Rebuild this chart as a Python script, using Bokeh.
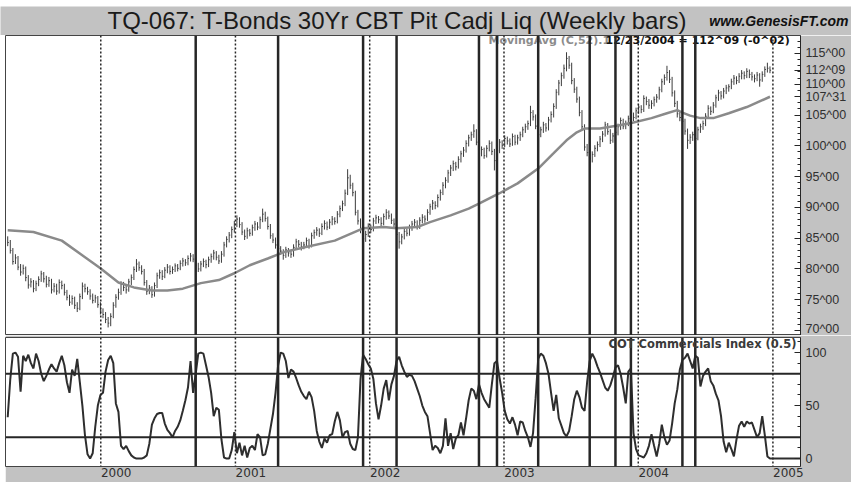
import pandas as pd
from bokeh.plotting import figure
from bokeh.layouts import column, row
from bokeh.models import Range1d, FixedTicker, Span, Label, ColumnDataSource, Spacer
from bokeh.core.properties import value
from bokeh.embed import file_html
from bokeh.resources import INLINE

# ---------------- data ----------------
first_week = "1999-04-23"

close = [
    84.3, 83.0, 81.2, 81.8, 80.3, 79.5, 80.1, 78.6, 77.4, 77.9,
    76.8, 77.6, 78.3, 79.2, 78.4, 77.5, 78.1, 76.6, 77.2, 76.4,
    77.8, 77.3, 76.2, 75.4, 74.6, 75.2, 74.1, 73.6, 75.5, 77.2,
    76.8, 76.3, 75.6, 74.9, 75.3, 74.2, 73.2, 72.6, 71.8, 71.2,
    72.3, 74.1, 75.4, 76.2, 77.5, 77.0, 76.6, 77.9, 78.6, 79.9,
    80.8, 80.2, 79.6, 77.8, 76.4, 76.9, 75.8, 77.3, 78.9, 79.4,
    78.8, 79.8, 80.3, 79.6, 79.9, 80.5, 80.1, 80.9, 81.3, 81.0,
    81.7, 82.1, 81.6, 80.6, 80.0, 80.8, 81.2, 80.7, 81.5, 82.0,
    82.6, 81.9, 81.3, 82.4, 83.9, 84.8, 85.5, 86.4, 87.3, 88.1,
    87.2, 86.0, 85.3, 86.2, 85.8, 86.7, 87.3, 86.8, 88.0, 88.9,
    88.2, 86.9, 85.4, 84.7, 83.9, 83.3, 82.9, 82.2, 83.1, 82.6,
    82.4, 83.5, 84.4, 84.0, 83.6, 83.9, 84.6, 83.8, 85.4, 85.9,
    86.3, 85.8, 86.9, 87.4, 86.8, 87.6, 88.1, 87.7, 88.9, 89.8,
    90.6, 92.3, 94.8, 93.6, 92.4, 89.2, 87.8, 86.4, 84.9, 85.6,
    86.9, 86.4, 87.8, 88.3, 88.0, 87.4, 88.5, 89.2, 88.6, 87.9,
    87.3, 85.6, 84.4, 85.2, 86.1, 85.8, 86.7, 87.3, 87.6, 86.9,
    87.9, 88.4, 88.1, 89.2, 90.1, 90.7, 90.3, 91.6, 92.4, 93.6,
    94.4, 95.6, 96.4, 97.1, 96.6, 97.8, 98.7, 99.3, 100.4, 101.3,
    101.8, 102.4, 100.6, 98.8, 99.4, 98.4, 99.6, 100.4, 99.1, 97.6,
    99.2, 100.6, 100.1, 101.2, 100.8, 100.3, 101.5, 100.6, 101.3, 101.8,
    102.6, 103.1, 103.6, 105.4, 104.7, 103.2, 101.8, 102.6, 103.4, 102.9,
    104.2, 105.1, 106.4, 108.7, 110.2, 111.4, 112.6, 114.2, 113.1, 110.6,
    109.2, 107.6, 105.4, 103.1, 99.8, 98.9, 97.9, 98.6, 99.6, 100.2,
    101.1, 101.9, 103.4, 102.3, 100.9, 101.6, 102.2, 103.1, 104.1, 103.2,
    103.6, 104.4, 105.1, 104.6, 105.7, 106.3, 105.9, 107.7, 107.2, 106.6,
    106.9, 107.5, 107.9, 109.1, 110.4, 111.1, 111.9, 110.8, 108.6, 106.9,
    105.2, 104.6, 104.0, 102.4, 100.9, 101.4, 101.8, 101.2, 102.6, 103.1,
    103.6, 104.8, 106.1, 105.6, 106.6, 107.8, 108.6, 108.1, 108.9, 109.4,
    109.6, 110.4, 111.0, 110.6, 111.3, 111.8, 111.4, 112.1, 111.6, 111.2,
    110.9, 111.5, 110.7, 111.6, 112.4, 112.6, 112.28,
]

high = [
    85.3, 84.7, 83.4, 82.4, 82.1, 80.8, 80.7, 80.4, 79.0, 78.5,
    78.2, 78.1, 78.8, 79.7, 79.5, 78.9, 78.7, 78.4, 77.7, 77.6,
    78.3, 78.1, 77.6, 76.6, 75.8, 75.7, 75.5, 74.6, 76.0, 77.8,
    77.6, 77.1, 76.7, 76.0, 75.8, 75.6, 74.6, 73.6, 73.0, 72.2,
    72.8, 74.6, 75.9, 76.8, 78.0, 77.9, 77.4, 78.4, 79.1, 80.4,
    81.6, 81.2, 80.6, 80.0, 78.2, 77.4, 77.2, 77.8, 79.4, 79.9,
    79.8, 80.3, 80.8, 80.6, 80.4, 80.9, 80.8, 81.4, 81.8, 81.6,
    82.2, 82.6, 82.4, 82.0, 81.0, 81.3, 81.7, 81.5, 82.0, 82.5,
    83.1, 82.9, 82.3, 82.9, 84.4, 85.3, 86.0, 86.9, 87.8, 88.7,
    88.4, 87.6, 86.4, 86.7, 86.5, 87.2, 87.8, 87.6, 88.5, 89.8,
    89.3, 88.5, 87.3, 85.8, 85.1, 84.3, 83.7, 83.2, 83.6, 83.4,
    83.0, 84.0, 84.9, 84.7, 84.4, 84.4, 85.1, 84.9, 85.9, 86.4,
    86.8, 86.6, 87.4, 87.9, 87.7, 88.1, 88.6, 88.4, 89.4, 90.3,
    91.1, 92.9, 96.2, 95.3, 94.0, 92.7, 89.6, 88.2, 86.8, 86.2,
    87.4, 87.2, 88.3, 88.8, 88.6, 88.4, 89.0, 89.7, 89.5, 89.0,
    88.2, 87.7, 86.0, 85.7, 86.6, 86.5, 87.2, 87.8, 88.1, 87.9,
    88.4, 88.9, 88.7, 89.7, 90.6, 91.2, 91.0, 92.1, 92.9, 94.1,
    94.9, 96.1, 96.9, 97.6, 97.4, 98.3, 99.2, 99.8, 100.9, 101.8,
    102.3, 103.5, 102.7, 101.0, 99.9, 99.7, 100.1, 100.9, 100.7, 99.5,
    99.7, 101.1, 100.9, 101.7, 101.5, 101.2, 102.0, 101.8, 101.8, 102.3,
    103.1, 103.6, 104.1, 106.5, 105.8, 105.1, 103.6, 103.1, 103.9, 103.7,
    104.7, 105.6, 106.9, 109.2, 110.7, 111.9, 113.2, 115.2, 114.6, 113.5,
    111.0, 109.6, 108.0, 105.8, 103.5, 100.3, 99.4, 99.1, 100.1, 100.7,
    101.6, 102.4, 103.9, 103.7, 102.7, 102.1, 102.7, 103.6, 104.6, 104.4,
    104.1, 104.9, 105.6, 105.4, 106.2, 106.8, 106.6, 108.2, 108.0, 107.6,
    107.4, 108.0, 108.4, 109.6, 110.9, 111.6, 113.0, 112.3, 111.2, 109.0,
    107.3, 105.6, 105.0, 104.4, 102.8, 101.9, 102.3, 102.1, 103.1, 103.6,
    104.1, 105.3, 106.6, 106.4, 107.1, 108.3, 109.1, 108.9, 109.4, 109.9,
    110.0, 110.9, 111.5, 111.3, 111.8, 112.3, 112.1, 112.6, 112.4, 112.0,
    111.6, 112.0, 111.8, 112.1, 112.9, 113.5, 112.9,
]

low = [
    83.7, 82.5, 80.7, 80.8, 79.8, 78.9, 79.1, 78.0, 76.8, 77.0,
    76.2, 76.4, 77.2, 77.9, 77.8, 77.0, 77.1, 76.0, 76.2, 75.8,
    76.0, 76.7, 75.7, 74.9, 74.0, 74.2, 73.5, 73.0, 73.3, 75.1,
    76.2, 75.8, 75.0, 74.4, 74.5, 73.7, 72.6, 72.0, 71.2, 70.5,
    70.7, 72.0, 73.7, 75.0, 75.8, 76.4, 76.0, 76.3, 77.4, 78.2,
    79.5, 79.7, 79.1, 77.3, 75.8, 75.9, 75.3, 75.5, 76.9, 78.4,
    78.2, 78.5, 79.3, 79.1, 79.2, 79.5, 79.6, 79.8, 80.4, 80.5,
    80.6, 81.2, 81.1, 80.1, 79.5, 79.6, 80.3, 80.1, 80.3, 81.0,
    81.5, 81.4, 80.8, 81.0, 82.0, 83.5, 84.3, 85.0, 85.9, 86.8,
    86.7, 85.5, 84.7, 84.9, 85.3, 85.4, 86.2, 86.3, 86.5, 87.6,
    87.7, 86.4, 84.9, 84.2, 83.3, 82.7, 82.3, 81.5, 81.8, 82.0,
    81.8, 82.0, 83.1, 83.5, 83.0, 83.2, 83.5, 83.3, 83.5, 84.9,
    85.4, 85.2, 85.5, 86.4, 86.3, 86.5, 87.1, 87.2, 87.4, 88.4,
    89.4, 90.2, 92.0, 93.0, 91.8, 88.7, 87.2, 85.8, 83.5, 84.4,
    85.2, 85.8, 86.1, 87.3, 87.4, 86.9, 87.1, 88.0, 88.1, 87.3,
    86.8, 85.0, 83.3, 84.0, 84.8, 85.3, 85.4, 86.2, 86.8, 86.4,
    86.5, 87.4, 87.5, 87.8, 88.8, 89.6, 89.7, 90.0, 91.1, 92.0,
    93.1, 94.0, 95.1, 95.9, 96.0, 96.3, 97.3, 98.2, 98.9, 99.9,
    100.8, 101.3, 100.1, 98.2, 98.3, 97.9, 98.1, 99.1, 98.5, 96.0,
    97.2, 98.8, 99.5, 99.8, 100.2, 99.8, 100.0, 100.1, 100.2, 100.8,
    101.4, 102.1, 102.6, 103.2, 104.1, 102.7, 101.0, 101.4, 102.1, 102.3,
    102.5, 103.8, 104.6, 106.0, 108.2, 109.7, 110.9, 112.1, 112.5, 110.0,
    108.6, 107.0, 104.8, 102.5, 99.2, 98.3, 96.2, 97.3, 98.2, 99.1,
    99.8, 100.6, 101.5, 101.8, 100.3, 100.5, 101.1, 101.7, 102.6, 102.7,
    102.7, 103.2, 103.9, 104.0, 104.3, 105.2, 105.3, 105.5, 106.6, 106.0,
    106.0, 106.4, 107.0, 107.5, 108.7, 109.9, 110.6, 110.2, 108.0, 106.3,
    104.6, 104.0, 103.4, 101.8, 99.5, 100.3, 100.8, 100.6, 100.9, 102.1,
    102.6, 103.2, 104.4, 105.0, 105.3, 106.2, 107.3, 107.5, 107.7, 108.4,
    108.8, 109.2, 109.9, 110.0, 110.2, 110.8, 110.8, 111.0, 111.0, 110.6,
    110.3, 110.5, 109.6, 110.4, 111.2, 111.9, 111.8,
]

# 52-week moving average, read at selected weeks (week number from first_week)
ma_week = [0, 10, 21, 28, 36, 43, 49, 56, 62, 68, 75, 82, 88, 94, 101, 107,
           114, 127, 138, 146, 151, 159, 164, 172, 179, 183, 191, 198, 206,
           212, 217, 221, 224, 230, 237, 243, 250, 256, 260, 262, 265, 269,
           274, 280, 287, 296]
ma_value = [86.3, 86.0, 84.6, 82.5, 80.1, 77.8, 77.0, 76.5, 76.5, 76.8, 77.7,
            78.2, 79.3, 80.6, 81.7, 82.7, 83.4, 84.6, 86.6, 86.8, 86.6, 86.8,
            87.6, 88.7, 89.8, 90.6, 92.3, 93.9, 96.3, 98.8, 100.9, 102.2,
            102.8, 102.8, 103.3, 103.8, 104.5, 105.3, 105.8, 105.4, 104.9,
            104.5, 104.5, 105.3, 106.3, 107.97]

cot_index = [
    39, 75, 99, 100, 96, 63, 97, 92, 98, 90,
    85, 99, 92, 80, 73, 78, 84, 89, 85, 82,
    90, 97, 88, 72, 62, 84, 78, 94, 72, 50,
    22, 4, 0, 5, 30, 50, 60, 62, 82, 93,
    97, 90, 52, 44, 12, 9, 12, 7, 3, 1,
    0, 0, 0, 1, 3, 14, 32, 38, 42, 43,
    43, 33, 27, 24, 20, 26, 30, 36, 45, 55,
    67, 92, 62, 80, 99, 100, 99, 88, 77, 62,
    40, 48, 46, 18, 1, 0, 0, 8, 25, 5,
    15, 3, 12, 1, 10, 12, 8, 23, 20, 3,
    4, 14, 28, 42, 62, 88, 100, 99, 92, 76,
    84, 82, 76, 69, 63, 59, 56, 63, 58, 45,
    26, 16, 10, 19, 15, 22, 23, 35, 44, 36,
    20, 25, 26, 14, 9, 8, 20, 75, 98, 94,
    89, 85, 75, 52, 37, 50, 66, 74, 55, 70,
    78, 92, 96, 88, 82, 77, 79, 78, 73, 66,
    59, 50, 44, 40, 24, 8, 12, 10, 5, 12,
    38, 12, 24, 9, 19, 22, 34, 22, 38, 55,
    66, 64, 56, 70, 62, 56, 52, 48, 70, 90,
    92, 76, 62, 45, 37, 33, 39, 32, 22, 35,
    34, 26, 20, 11, 24, 57, 94, 99, 97, 90,
    80, 62, 45, 60, 38, 31, 24, 21, 26, 40,
    56, 64, 58, 48, 45, 72, 92, 99, 94, 87,
    81, 74, 67, 64, 69, 77, 86, 88, 80, 67,
    52, 82, 85, 24, 9, 3, 2, 1, 5, 12,
    23, 12, 2, 14, 32, 20, 13, 17, 33, 52,
    65, 84, 93, 95, 99, 92, 85, 97, 95, 68,
    78, 82, 85, 73, 69, 61, 55, 40, 16, 6,
    15, 9, 2, 18, 31, 35, 30, 35, 33, 34,
    27, 20, 24, 40, 22, 2, 0, 0, 0, 0,
    0, 0, 0, 0, 0, 0, 0, 0, 0,
]
cot_levels = [20, 80]

signal_dates = ["2000-09-15", "2001-04-27", "2001-12-14", "2002-03-15",
                "2002-10-25", "2002-12-13", "2003-04-04", "2003-08-22",
                "2003-10-31", "2003-12-12", "2004-04-30", "2004-06-04"]
year_starts = ["2000-01-01", "2001-01-01", "2002-01-01", "2003-01-01",
               "2004-01-01", "2005-01-01"]
year_labels = ["2000", "2001", "2002", "2003", "2004", "2005"]

price_ticks = [70, 75, 80, 85, 90, 95, 100, 105, 110, 115]
price_tick_labels = ["70^00", "75^00", "80^00", "85^00", "90^00", "95^00",
                     "100^00", "105^00", "110^00", "115^00"]
tag_values = [112.28, 107.97]          # last close, last 52-week average
tag_texts = ["112^09", "107^31"]
cot_ticks = [0, 50, 100]

title_text = "TQ-067:  T-Bonds 30Yr CBT Pit Cadj Liq (Weekly bars)"
site_text = "www.GenesisFT.com"
ma_text = "MovingAvg (C,52).1"
last_text = "12/23/2004 = 112^09 (-0^02)"
cot_text = "COT Commercials Index (0.5)"

assert len(close) == len(high) == len(low)
assert len(ma_week) == len(ma_value)

# ---------------- style ----------------
GREY = "#c2c2c2"
INK = "#262626"
BAR = "#3c3c3c"
MA_COL = "#8a8a8a"
FW = 795
TOP_GAP = 6
HEAD_H = 29
P1_H = 300

weeks = pd.date_range(first_week, periods=len(close), freq="7D")
bars = ColumnDataSource(dict(date=weeks, date_r=weeks + pd.Timedelta(days=3),
                             high=high, low=low, close=close))
ma_dates = weeks[ma_week]
cot_dates = pd.date_range(first_week, periods=len(cot_index), freq="7D")


def ms(d):
    return pd.Timestamp(d).value / 1e6


x_range = Range1d(start=ms("1999-04-17"), end=ms("2005-03-17"))


def style_yaxis(ax):
    ax.axis_line_color = INK
    ax.major_tick_line_color = INK
    ax.minor_tick_line_color = INK
    ax.major_tick_in = 6
    ax.major_tick_out = 0
    ax.minor_tick_in = 3
    ax.minor_tick_out = 0
    ax.major_label_standoff = 5
    ax.major_label_text_font = "Liberation Sans"
    ax.major_label_text_font_size = "12.5px"
    ax.major_label_text_color = "#303030"


def add_vlines(p):
    for d in year_starts:
        p.add_layout(Span(location=ms(d), dimension="height", line_color=INK,
                          line_width=1.5, line_dash="2 2"))
    for d in signal_dates:
        p.add_layout(Span(location=ms(d), dimension="height", line_color=INK,
                          line_width=2.5))


# ---------------- header strip ----------------
head = figure(width=851, height=HEAD_H, x_range=Range1d(0, 851),
              y_range=Range1d(0, HEAD_H), x_axis_location=None, y_axis_location=None,
              toolbar_location=None, output_backend="svg", min_border=0,
              background_fill_color=GREY, border_fill_color=GREY,
              outline_line_color=None, title=None)
head.xgrid.grid_line_color = None
head.ygrid.grid_line_color = None
head.text(x=[107], y=[14.6], text=[title_text], text_font=value("Liberation Sans"),
          text_font_size="24px", text_color="#1a1a1a", text_baseline="alphabetic")
head.text(x=[848], y=[15], text=[site_text], text_font=value("Liberation Sans"),
          text_font_size="14px", text_font_style="bold italic", text_color="#111111",
          text_align="right", text_baseline="alphabetic")

# ---------------- price panel ----------------
p1 = figure(x_axis_type="datetime", x_range=x_range, y_range=Range1d(69.19, 117.92),
            frame_width=FW, frame_height=P1_H, min_border_top=0, min_border_bottom=0,
            min_border_left=0, min_border_right=51, x_axis_location=None,
            y_axis_location="right", toolbar_location=None, output_backend="svg",
            border_fill_color=GREY, background_fill_color="white",
            outline_line_color="#444444", title=None)
p1.xgrid.grid_line_color = None
p1.ygrid.grid_line_color = None
p1.yaxis.ticker = FixedTicker(ticks=price_ticks + tag_values,
                              minor_ticks=list(range(69, 118)))
p1.yaxis.major_label_overrides = dict(zip(price_ticks + tag_values,
                                          price_tick_labels + tag_texts))
style_yaxis(p1.yaxis[0])

p1.segment(x0="date", y0="low", x1="date", y1="high", source=bars,
           line_color=BAR, line_width=1)
p1.segment(x0="date", y0="close", x1="date_r", y1="close", source=bars,
           line_color=BAR, line_width=1)
p1.line(ma_dates, ma_value, line_color=MA_COL, line_width=2.5)

p1.add_layout(Label(x=483, y=P1_H - 11, x_units="screen", y_units="screen", text=ma_text,
                    text_font="DejaVu Sans", text_font_style="bold",
                    text_font_size="11px", text_color="#8c8c8c"))
p1.add_layout(Label(x=600, y=P1_H - 11, x_units="screen", y_units="screen", text=last_text,
                    text_font="DejaVu Sans", text_font_style="bold",
                    text_font_size="11px", text_color="#111111"))
add_vlines(p1)

# ---------------- COT panel ----------------
p2 = figure(x_axis_type="datetime", x_range=x_range, y_range=Range1d(-7.5, 114.2),
            frame_width=FW, frame_height=129, min_border_top=2, min_border_bottom=16,
            min_border_left=0, min_border_right=51, y_axis_location="right",
            toolbar_location=None, output_backend="svg",
            border_fill_color=GREY, background_fill_color="white",
            outline_line_color="#444444", title=None)
p2.xgrid.grid_line_color = None
p2.ygrid.grid_line_color = None
p2.yaxis.ticker = FixedTicker(ticks=cot_ticks, minor_ticks=list(range(0, 111, 10)))
style_yaxis(p2.yaxis[0])

year_tick_pos = [ms(d) + 42 * 86400000 for d in year_starts]
p2.xaxis.ticker = FixedTicker(ticks=year_tick_pos)
p2.xaxis.major_label_overrides = dict(zip(year_tick_pos, year_labels))
p2.xaxis.axis_line_color = None
p2.xaxis.major_tick_line_color = None
p2.xaxis.major_tick_out = 0
p2.xaxis.major_tick_in = 0
p2.xaxis.minor_tick_line_color = None
p2.xaxis.major_label_standoff = 1
p2.xaxis.major_label_text_font = "DejaVu Sans"
p2.xaxis.major_label_text_font_size = "12px"
p2.xaxis.major_label_text_color = "#303030"

for lvl in cot_levels:
    p2.add_layout(Span(location=lvl, dimension="width", line_color=INK, line_width=2))
p2.line(cot_dates, cot_index, line_color="#2e2e2e", line_width=2)
add_vlines(p2)

p2.add_layout(Label(x=603, y=101, x_units="screen", y_units="data", text=cot_text,
                    text_font="DejaVu Sans", text_font_style="bold",
                    text_font_size="11.5px", text_color="#3a3a3a"))

layout = column(Spacer(width=851, height=TOP_GAP), head,
                row(Spacer(width=5, height=P1_H), p1),
                row(Spacer(width=5, height=147), p2))
open("out.html", "w").write(file_html(layout, INLINE))
